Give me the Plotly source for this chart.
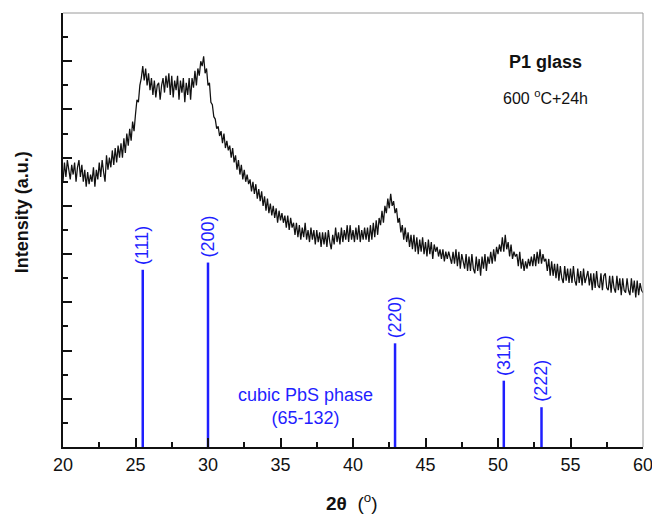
import plotly.graph_objects as go

two_theta_start = 20.0
two_theta_step = 0.1
intensity = [
    11.0, 11.8, 11.2, 11.9, 11.5, 11.1, 11.7, 11.3, 11.8, 11.0,
    11.6, 11.9, 11.2, 11.7, 11.0, 11.5, 10.8, 11.4, 10.9, 11.3,
    11.0, 11.6, 10.8, 11.5, 11.1, 11.8, 11.2, 11.9, 11.4, 11.0,
    12.1, 11.5, 12.0, 11.6, 12.3, 11.7, 12.4, 11.8, 12.5, 12.0,
    12.6, 12.0, 12.8, 12.2, 13.0, 12.5, 13.2, 12.7, 13.5, 13.1,
    13.8, 14.4, 14.3, 15.0, 15.3, 15.8, 15.2, 15.7, 15.0, 15.5,
    14.8, 15.3, 14.6, 15.2, 14.5, 15.0, 15.1, 14.4, 15.0, 15.3,
    14.7, 15.4, 14.9, 15.5, 14.6, 15.4, 14.5, 15.2, 14.8, 15.4,
    14.4, 15.2, 14.7, 15.3, 14.3, 15.1, 14.6, 15.3, 14.4, 15.3,
    14.9, 15.6, 15.0, 15.7, 15.4, 16.0, 15.8, 16.2, 15.5, 15.7,
    15.0, 15.1, 14.3, 14.2, 13.7, 13.6, 13.2, 13.3, 12.9, 13.1,
    12.6, 13.0, 12.4, 12.7, 12.3, 12.5, 12.0, 12.4, 11.8, 12.1,
    11.5, 11.9, 11.3, 11.7, 11.1, 11.5, 11.0, 11.3, 10.9, 11.1,
    10.6, 11.0, 10.5, 10.9, 10.3, 10.7, 10.2, 10.6, 10.0, 10.4,
    9.8, 10.3, 9.7, 10.1, 9.6, 10.0, 9.5, 9.9, 9.3, 9.8,
    9.4, 9.7, 9.3, 9.6, 9.1, 9.6, 9.0, 9.5, 9.1, 9.3,
    8.8, 9.3, 8.7, 9.2, 8.6, 9.1, 8.7, 9.3, 8.6, 9.0,
    8.5, 9.1, 8.6, 9.0, 8.4, 9.0, 8.5, 8.9, 8.3, 8.9,
    8.4, 8.9, 8.3, 9.0, 8.5, 8.2, 8.8, 8.4, 9.1, 8.5,
    8.9, 8.4, 9.1, 8.5, 9.0, 8.6, 9.2, 8.5, 9.2, 8.6,
    9.0, 8.5, 9.1, 8.6, 9.2, 8.5, 9.0, 8.6, 9.1, 8.6,
    9.1, 8.5, 9.2, 8.6, 9.3, 8.7, 9.4, 8.8, 9.5, 9.2,
    9.8, 9.3, 10.0, 9.7, 10.3, 9.9, 10.5, 10.0, 10.2, 9.7,
    9.9, 9.3, 9.5, 8.9, 9.2, 8.6, 9.1, 8.5, 8.9, 8.3,
    8.8, 8.2, 8.8, 8.1, 8.7, 8.0, 8.6, 8.1, 8.7, 8.0,
    8.5, 7.9, 8.6, 8.0, 8.5, 7.8, 8.4, 8.1, 8.3, 7.9,
    8.2, 7.8, 8.2, 7.7, 8.1, 7.8, 8.1, 7.9, 7.6, 8.1,
    7.6, 8.2, 7.5, 8.1, 7.4, 8.0, 7.7, 7.4, 8.0, 7.3,
    7.9, 7.3, 8.0, 7.4, 7.2, 7.9, 7.3, 7.8, 7.1, 7.9,
    7.4, 8.0, 7.3, 7.9, 7.6, 8.1, 7.6, 8.2, 7.7, 8.3,
    8.0, 8.4, 8.1, 8.7, 8.1, 8.8, 8.2, 8.5, 7.9, 8.4,
    7.8, 8.1, 7.9, 8.0, 7.5, 8.1, 7.4, 7.8, 7.3, 7.7,
    7.4, 7.8, 7.5, 7.9, 7.5, 8.0, 7.5, 8.1, 7.6, 8.2,
    7.6, 8.0, 7.7, 7.8, 7.3, 7.8, 7.1, 7.7, 7.1, 7.6,
    7.0, 7.6, 6.9, 7.5, 7.0, 6.8, 7.5, 6.9, 7.4, 6.8,
    7.4, 6.8, 7.5, 6.9, 6.7, 7.4, 6.8, 7.3, 6.7, 7.4,
    6.8, 7.0, 7.3, 6.7, 7.2, 6.5, 7.2, 6.6, 7.3, 6.7,
    6.6, 7.2, 6.5, 7.1, 7.2, 6.6, 6.5, 7.1, 6.4, 7.1,
    6.6, 6.4, 7.1, 6.5, 7.0, 6.3, 7.0, 6.5, 6.4, 7.0,
    6.5, 6.3, 7.0, 6.4, 6.9, 6.2, 6.9, 6.3, 6.8, 6.5,
    6.4,
]
two_theta = [round(two_theta_start + i * two_theta_step, 2) for i in range(len(intensity))]

# Reference stick pattern: cubic PbS (65-132)
peak_pos = [25.5, 30.0, 42.9, 50.4, 53.0]
peak_height = [7.35, 7.65, 4.3, 2.75, 1.65]
peak_label = ["(111)", "(200)", "(220)", "(311)", "(222)"]

x_ticks = [20, 25, 30, 35, 40, 45, 50, 55, 60]

FONT = "Arial, Liberation Sans, sans-serif"
BLUE = "#1f1fff"
INK = "#111111"

stick_x, stick_y = [], []
for p, h in zip(peak_pos, peak_height):
    stick_x += [p, p, None]
    stick_y += [0, h, None]

fig = go.Figure()
fig.add_trace(go.Scatter(x=two_theta, y=intensity, mode="lines",
                         line=dict(color=INK, width=1.25), showlegend=False))
fig.add_trace(go.Scatter(x=stick_x, y=stick_y, mode="lines",
                         line=dict(color=BLUE, width=2.5), showlegend=False))

for p, h, lab in zip(peak_pos, peak_height, peak_label):
    fig.add_annotation(x=p, y=h, text=lab, showarrow=False, textangle=-90,
                       xanchor="center", yanchor="bottom", yshift=3,
                       font=dict(family=FONT, size=18, color=BLUE))

fig.add_annotation(x=36.7, y=1.7, text="cubic PbS phase<br>(65-132)", showarrow=False,
                   align="center", font=dict(family=FONT, size=18, color=BLUE))
fig.add_annotation(x=53.25, y=15.95, text="<b>P1 glass</b>", showarrow=False,
                   font=dict(family=FONT, size=18, color=INK))
fig.add_annotation(x=53.25, y=14.5, text="600 <sup>o</sup>C+24h", showarrow=False,
                   font=dict(family=FONT, size=16, color=INK))

# axis titles
fig.add_annotation(xref="paper", yref="paper", x=-0.0707, y=0.541,
                   text="<b>Intensity (a.u.)</b>", showarrow=False, textangle=-90,
                   xanchor="center", yanchor="middle",
                   font=dict(family=FONT, size=18, color=INK))
fig.add_annotation(xref="paper", yref="paper", x=0.4966, y=-0.127,
                   text="<b>2θ</b>  (<sup>o</sup>)", showarrow=False,
                   xanchor="center", yanchor="middle",
                   font=dict(family=FONT, size=19, color=INK))

# light frame on top/right
fig.add_shape(type="line", xref="paper", yref="paper", x0=0, x1=1, y0=1, y1=1,
              line=dict(color="#9a9a9a", width=1))
fig.add_shape(type="line", xref="paper", yref="paper", x0=1, x1=1, y0=0, y1=1,
              line=dict(color="#9a9a9a", width=1))

fig.update_xaxes(range=[20, 60], tickvals=x_ticks, ticktext=[str(t) for t in x_ticks],
                 ticks="inside", ticklen=9, tickwidth=1.5, tickcolor=INK,
                 minor=dict(dtick=2.5, tick0=20, ticks="inside", ticklen=5, tickwidth=1.5,
                            tickcolor=INK),
                 showline=True, linecolor=INK, linewidth=2,
                 showgrid=False, zeroline=False, automargin=False,
                 ticklabeloverflow="allow",
                 tickfont=dict(family=FONT, size=18, color=INK))
fig.update_yaxes(range=[0, 18], dtick=2, tick0=0, showticklabels=False,
                 ticks="inside", ticklen=9, tickwidth=1.5, tickcolor=INK,
                 minor=dict(dtick=1, ticks="inside", ticklen=5, tickwidth=1.5,
                            tickcolor=INK),
                 showline=True, linecolor=INK, linewidth=2,
                 showgrid=False, zeroline=False, automargin=False)

fig.update_layout(width=652, height=515, plot_bgcolor="white", paper_bgcolor="white",
                  margin=dict(l=63, r=9, t=13, b=68), showlegend=False)

fig.write_html("out.html")
